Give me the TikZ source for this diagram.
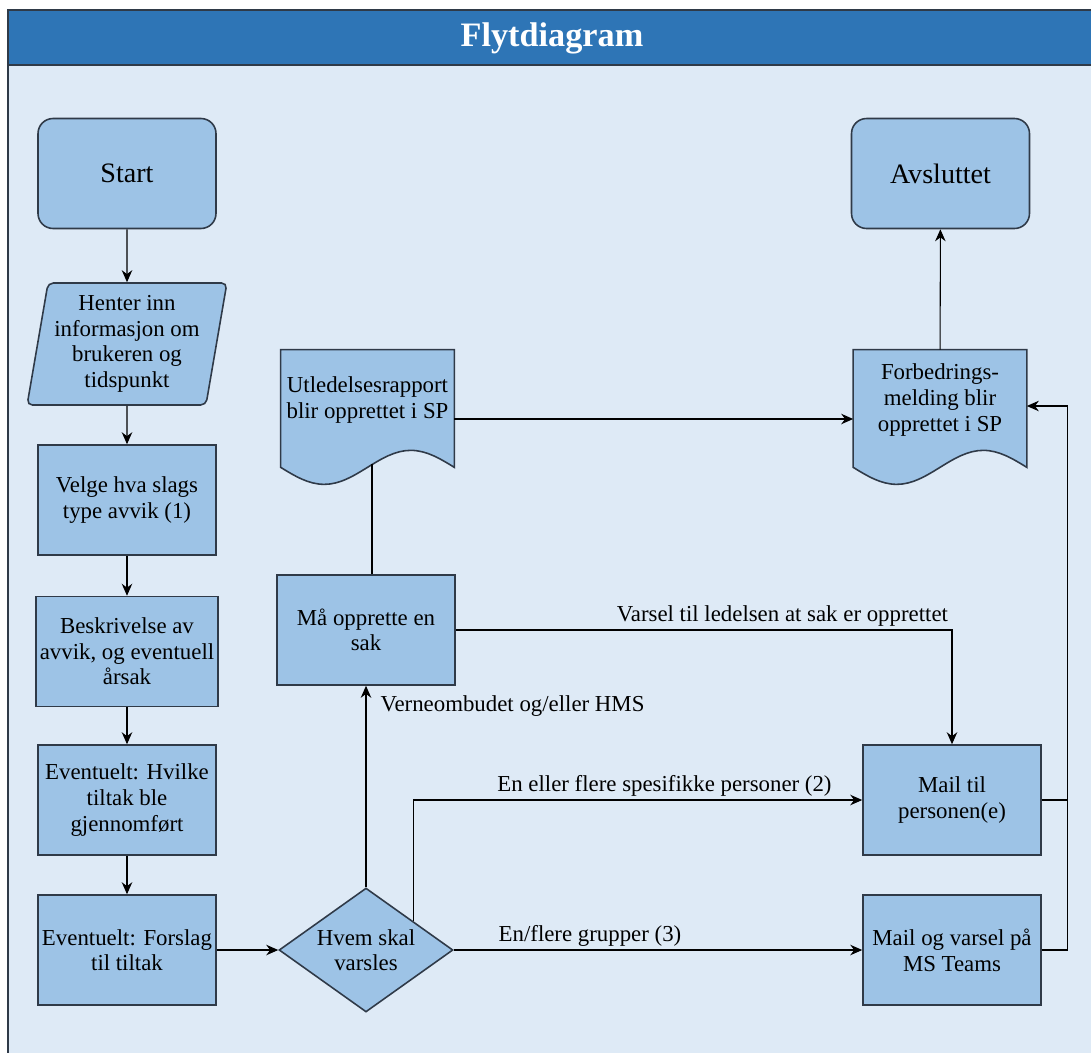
\documentclass[tikz,border=0pt]{standalone}
\usepackage{fontspec}
\setmainfont{Liberation Serif}
\usetikzlibrary{arrows.meta,calc,shapes.geometric,backgrounds}
\definecolor{fTitle}{HTML}{2E75B6}
\definecolor{fBody}{HTML}{DEEAF6}
\definecolor{fNode}{HTML}{9DC3E6}
\definecolor{fLine}{HTML}{2F3A48}
\tikzset{
  box/.style     = {draw=fLine, fill=fNode, line width=0.9pt, align=center,
                    font=\fontsize{13}{14.6}\selectfont, inner sep=2pt,
                    minimum width=3.56cm, minimum height=2.2cm},
  term/.style    = {box, rounded corners=0.3cm, font=\fontsize{16}{19}\selectfont},
  io/.style      = {box, trapezium, trapezium left angle=79, trapezium right angle=101,
                    trapezium stretches=true, rounded corners=3pt,
                    minimum width=4cm, minimum height=2.44cm},
  dec/.style     = {box, diamond, aspect=1.43, inner sep=0pt,
                    minimum width=3.48cm, minimum height=2.48cm},
  docbox/.style  = {align=center, font=\fontsize{13}{14.6}\selectfont, inner sep=0pt,
                    minimum width=3.46cm, minimum height=2cm},
  docline/.style = {draw=fLine, fill=fNode, line width=0.9pt},
  ln/.style      = {draw=black, line width=0.6pt},
  ar/.style      = {ln, -{Stealth[length=2.4mm, width=2.1mm]}},
  lbl/.style     = {font=\fontsize{13}{14.6}\selectfont, inner sep=2pt},
  ttl/.style     = {text=white, font=\bfseries\fontsize{19.5}{23}\selectfont},
}
% document shape: flat top, wavy bottom below the node
\newcommand\docoutline[1]{%
  \draw[docline] (#1.north west) -- (#1.north east) -- ($(#1.south east)+(0,17)$)
    sin ($(#1.south)+(43.25,0)$) cos ($(#1.south)+(0,17)$)
    sin ($(#1.south)+(-43.25,34)$) cos ($(#1.south west)+(0,17)$) -- cycle;}

\begin{document}
\begin{tikzpicture}[x=0.02cm, y=-0.02cm]
  \useasboundingbox (0,0) rectangle (1091,1052);
  \begin{scope}[on background layer]
    \fill[fBody] (8,65) rectangle (1100,1060);
    \draw[draw=fLine, line width=1.2pt, fill=fTitle] (8,10) rectangle (1100,65);
    \draw[draw=fLine, line width=1.2pt] (8,65) -- (8,1060);
  \end{scope}
  \node[ttl] (title) at (552,38) {Flytdiagram};

  % left column
  \node[term] (start) at (127,173.5) {Start};
  \node[io]   (hent)  at (127,344)   {Henter inn\\informasjon om\\brukeren og\\tidspunkt};
  \node[box]  (velg)  at (127,500)   {Velge hva slags\\type avvik (1)};
  \node[box]  (besk)  at (127,651.5) {Beskrivelse av\\avvik, og eventuell\\årsak};
  \node[box]  (hvil)  at (127,800)   {Eventuelt: Hvilke\\tiltak ble\\gjennomført};
  \node[box]  (fors)  at (127,950)   {Eventuelt: Forslag\\til tiltak};

  % middle column
  \node[dec]    (hvem) at (366,950)   {Hvem skal\\varsles};
  \node[box]    (mao)  at (366,630)   {Må opprette en\\sak};
  \node[docbox] (utl)  at (367.5,400) {Utledelsesrapport\\blir opprettet i SP};

  % right column
  \node[term]   (avs)   at (940.5,173.5) {Avsluttet};
  \node[docbox] (forb)  at (940,400)     {Forbedrings-\\melding blir\\opprettet i SP};
  \node[box]    (mail)  at (952,800)     {Mail til\\personen(e)};
  \node[box]    (teams) at (952,950)     {Mail og varsel på\\MS Teams};

  \begin{scope}[on background layer]
    \docoutline{utl}
    \docoutline{forb}
  \end{scope}

  \coordinate (utlw) at ($(utl.south)+(4.5,14)$);
  \coordinate (hvne) at ($(hvem.north)!0.54!(hvem.east)$);
  \coordinate (back) at ($(forb.east)+(41,6)$);

  \draw[ar] (start) -- (hent);
  \draw[ar] (hent) -- (velg);
  \draw[ar] (velg) -- (besk);
  \draw[ar] (besk) -- (hvil);
  \draw[ar] (hvil) -- (fors);
  \draw[ar] (fors) -- (hvem);

  \draw[ar] (hvem) -- node[lbl, anchor=west, pos=0.9, xshift=6pt] {Verneombudet og/eller HMS} (mao);
  \draw[ln] (mao.north -| utlw) -- (utlw);
  \draw[ar] ($(utl.east)+(0,19)$) -- ($(forb.west)+(0,19)$);
  \draw[ar] (mao.east) -| node[lbl, anchor=south east, pos=0.5] {Varsel til ledelsen at sak er opprettet} (mail);
  \draw[ar] (hvne) |- node[lbl, anchor=south west, pos=0.589] {En eller flere spesifikke personer (2)} (mail);
  \draw[ar] (hvem) -- node[lbl, anchor=south west, pos=0.1] {En/flere grupper (3)} (teams);

  \draw[ln] (mail.east) -- (mail.east -| back);
  \draw[ar] (teams.east) -| (back) -- ($(forb.east)+(0,6)$);
  \draw[ar] (forb) -- (avs);
\end{tikzpicture}
\end{document}
